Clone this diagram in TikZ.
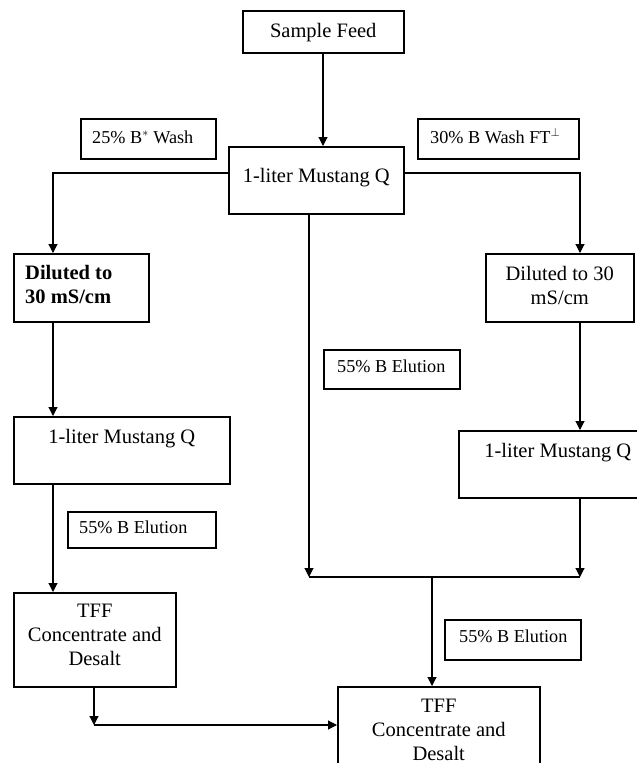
\documentclass[tikz,border=0pt]{standalone}
\usepackage{fontspec}
\setmainfont{Liberation Serif}
\usetikzlibrary{arrows.meta, positioning}

\tikzset{
  box/.style={draw, line width=1.5pt, inner sep=0pt, anchor=north west},
  bigtxt/.style={font=\fontsize{20.5}{24}\selectfont, inner sep=0pt, anchor=base, align=center},
  smalltxt/.style={font=\fontsize{18.2}{22}\selectfont, inner sep=0pt, anchor=base west},
  flow/.style={line width=1.1pt, -{Triangle[length=9pt,width=9pt]}},
  link/.style={line width=1.1pt}
}

\begin{document}
\begin{tikzpicture}[x=1pt,y=-1pt]
  \useasboundingbox (0,0) rectangle (637,763);

  % process boxes
  \node[box, minimum width=161pt, minimum height=42pt] (feed) at (242,10) {};
  \node[box, minimum width=175pt, minimum height=67pt] (mq1) at (228,146) {};
  \node[box, minimum width=135pt, minimum height=68pt] (dilL) at (13,253) {};
  \node[box, minimum width=148pt, minimum height=68pt] (dilR) at (485,253) {};
  \node[box, minimum width=216pt, minimum height=67pt] (mqL) at (13,416) {};
  \node[box, minimum width=198pt, minimum height=67pt] (mqR) at (458,430) {};
  \node[box, minimum width=162pt, minimum height=94pt] (tffL) at (13,592) {};
  \node[box, minimum width=202pt, minimum height=110pt] (tffR) at (337,686) {};

  % buffer boxes
  \node[box, minimum width=135pt, minimum height=40pt] (wash25) at (80,118) {};
  \node[box, minimum width=161pt, minimum height=40pt] (wash30) at (417,118) {};
  \node[box, minimum width=136pt, minimum height=39pt] (eluM) at (323,349) {};
  \node[box, minimum width=148pt, minimum height=36pt] (eluL) at (67,511) {};
  \node[box, minimum width=136pt, minimum height=40pt] (eluB) at (444,619) {};

  % texts (base = last line)
  \node[bigtxt] at ([yshift=-27pt]feed.north) {Sample Feed};
  \node[bigtxt] at ([yshift=-36pt]mq1.north) {1-liter Mustang Q};
  \node[bigtxt, anchor=base west, align=left, font=\fontsize{20.5}{24}\selectfont\bfseries]
    at ([xshift=12pt,yshift=-50pt]dilL.north west) {Diluted to\\30 mS/cm};
  \node[bigtxt] at ([yshift=-51pt]dilR.north) {Diluted to 30\\mS/cm};
  \node[bigtxt] at ([yshift=-27pt]mqL.north) {1-liter Mustang Q};
  \node[bigtxt] at ([yshift=-27pt]mqR.north) {1-liter Mustang Q};
  \node[bigtxt] at ([yshift=-73pt]tffL.north) {TFF\\Concentrate and\\Desalt};
  \node[bigtxt] at ([yshift=-74pt]tffR.north) {TFF\\Concentrate and\\Desalt};
  \node[smalltxt] at ([xshift=12pt,yshift=-25pt]wash25.north west) {25\% B$^{*}$ Wash};
  \node[smalltxt] at ([xshift=13pt,yshift=-25pt]wash30.north west) {30\% B Wash FT$^{\perp}$};
  \node[smalltxt] at ([xshift=14pt,yshift=-23pt]eluM.north west) {55\% B Elution};
  \node[smalltxt] at ([xshift=12pt,yshift=-22pt]eluL.north west) {55\% B Elution};
  \node[smalltxt] at ([xshift=15pt,yshift=-23pt]eluB.north west) {55\% B Elution};

  % junction points
  \coordinate (jl) at (53,173);
  \coordinate (jr) at (580,173);
  \coordinate (jm) at (309,577);
  \coordinate (jc) at (432,577);
  \coordinate (jb) at (94,725);

  % connectors
  \draw[flow] (feed.south -| 323,0) -- (mq1.north -| 323,0);
  \draw[flow] (mq1.west |- jl) -- (jl) -- (jl |- dilL.north);
  \draw[flow] (mq1.east |- jr) -- (jr) -- (jr |- dilR.north);
  \draw[flow] (jl |- dilL.south) -- (jl |- mqL.north);
  \draw[flow] (jl |- mqL.south) -- (jl |- tffL.north);
  \draw[flow] (jr |- dilR.south) -- (jr |- mqR.north);
  \draw[flow] (jr |- mqR.south) -- (jr |- jm);
  \draw[flow] (jm |- mq1.south) -- (jm);
  \draw[link] (jm) -- (jr |- jm);
  \draw[flow] (jc) -- (jc |- tffR.north);
  \draw[flow] (jb |- tffL.south) -- (jb);
  \draw[flow] (jb) -- (tffR.west |- jb);
\end{tikzpicture}
\end{document}
